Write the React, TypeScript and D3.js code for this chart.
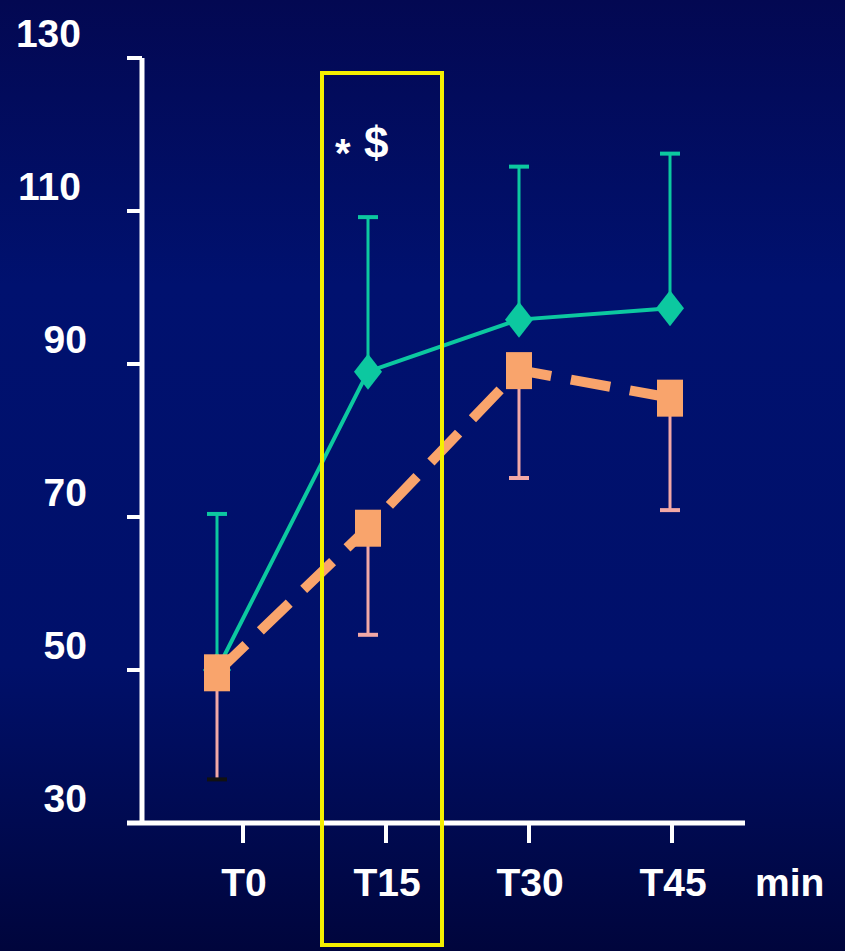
import * as React from "react";
import * as d3 from "d3";

// time points (minutes) and axis labels
const times = [0, 15, 30, 45];
const timeLabels = ["T0", "T15", "T30", "T45"];
const yTicks = [30, 50, 70, 90, 110, 130];

// green series (mean + upper error bar)
const greenMean = [50, 89, 95.8, 97.3];
const greenUpper = [70.4, 109.2, 115.8, 117.5];

// orange series (mean + lower error bar)
const orangeMean = [49.7, 68.6, 89.2, 85.6];
const orangeLower = [35.7, 54.6, 75.1, 70.9];

const W = 845;
const H = 951;
const FONT = "'Liberation Sans', Arial, Helvetica, sans-serif";

const GREEN = "#0cc8a0";
const ORANGE = "#f9a46c";
const PINK = "#f2a8a6";
const YELLOW = "#f4f000";

export default function App() {
  const y = d3.scaleLinear().domain([30, 130]).range([823, 58]);
  const x = d3.scaleLinear().domain([0, 45]).range([217, 670]);
  const xTick = d3.scalePoint<string>().domain(timeLabels).range([243, 672]);

  const axisX = 142;
  const axisY = y(30);

  const greenPts = times.map((t, i) => [x(t), y(greenMean[i])] as [number, number]);
  const orangePts = times.map((t, i) => [x(t), y(orangeMean[i])] as [number, number]);
  const line = d3.line();

  // highlight box around T15
  const boxL = x(15) - 46;
  const boxR = x(15) + 74;

  return (
    <svg width={W} height={H} style={{ position: "absolute", left: 0, top: 0 }}>
      <defs>
        <linearGradient id="bg" x1="0" y1="0" x2="0" y2="1">
          <stop offset="0%" stopColor="#030852" />
          <stop offset="30%" stopColor="#00116f" />
          <stop offset="70%" stopColor="#00106a" />
          <stop offset="100%" stopColor="#00053c" />
        </linearGradient>
      </defs>
      <rect x={0} y={0} width={W} height={H} fill="url(#bg)" />

      {/* y axis */}
      <line x1={axisX} x2={axisX} y1={y(130)} y2={axisY} stroke="#fff" strokeWidth={5} />
      {yTicks.map((v) => (
        <g key={v}>
          <line x1={axisX - 15} x2={axisX} y1={y(v)} y2={y(v)} stroke="#fff" strokeWidth={4} />
          <text
            x={v >= 100 ? 81 : 87}
            y={y(v) - 11}
            textAnchor="end"
            fill="#fff"
            fontFamily={FONT}
            fontWeight="bold"
            fontSize={39}
          >
            {v}
          </text>
        </g>
      ))}

      {/* x axis */}
      <line x1={axisX - 15} x2={745} y1={axisY} y2={axisY} stroke="#fff" strokeWidth={5} />
      {timeLabels.map((lab) => (
        <g key={lab}>
          <line x1={xTick(lab)} x2={xTick(lab)} y1={axisY} y2={axisY + 20} stroke="#fff" strokeWidth={4} />
          <text
            x={(xTick(lab) as number) + 1}
            y={896}
            textAnchor="middle"
            fill="#fff"
            fontFamily={FONT}
            fontWeight="bold"
            fontSize={39}
          >
            {lab}
          </text>
        </g>
      ))}
      <text x={755} y={896} fill="#fff" fontFamily={FONT} fontWeight="bold" fontSize={39}>
        min
      </text>

      {/* green error bars */}
      {times.map((t, i) => (
        <g key={"ge" + t}>
          <line x1={x(t)} x2={x(t)} y1={y(greenMean[i])} y2={y(greenUpper[i])} stroke={GREEN} strokeWidth={3} />
          <line x1={x(t) - 10} x2={x(t) + 10} y1={y(greenUpper[i])} y2={y(greenUpper[i])} stroke={GREEN} strokeWidth={4} />
        </g>
      ))}
      <path d={line(greenPts) ?? ""} fill="none" stroke={GREEN} strokeWidth={4} />
      {greenPts.map(([px, py], i) => (
        <path
          key={"gd" + i}
          d={`M${px},${py - 18}L${px + 14},${py}L${px},${py + 18}L${px - 14},${py}Z`}
          fill={GREEN}
        />
      ))}

      {/* orange error bars */}
      {times.map((t, i) => (
        <g key={"oe" + t}>
          <line x1={x(t)} x2={x(t)} y1={y(orangeMean[i])} y2={y(orangeLower[i])} stroke={PINK} strokeWidth={3} />
          <line
            x1={x(t) - 10}
            x2={x(t) + 10}
            y1={y(orangeLower[i])}
            y2={y(orangeLower[i])}
            stroke={i === 0 ? "#111" : PINK}
            strokeWidth={4}
          />
        </g>
      ))}
      <path
        d={line(orangePts) ?? ""}
        fill="none"
        stroke={ORANGE}
        strokeWidth={10}
        strokeDasharray="40 20"
      />
      {orangePts.map(([px, py], i) => (
        <rect key={"os" + i} x={px - 13} y={py - 18} width={26} height={37} fill={ORANGE} />
      ))}

      {/* T15 highlight */}
      <rect x={boxL} y={73} width={boxR - boxL} height={872} fill="none" stroke={YELLOW} strokeWidth={4} />
      <text x={335} y={167} fill="#fff" fontFamily={FONT} fontWeight="bold" fontSize={40}>
        *
      </text>
      <text x={364} y={158} fill="#fff" fontFamily={FONT} fontWeight="bold" fontSize={44}>
        $
      </text>
    </svg>
  );
}
